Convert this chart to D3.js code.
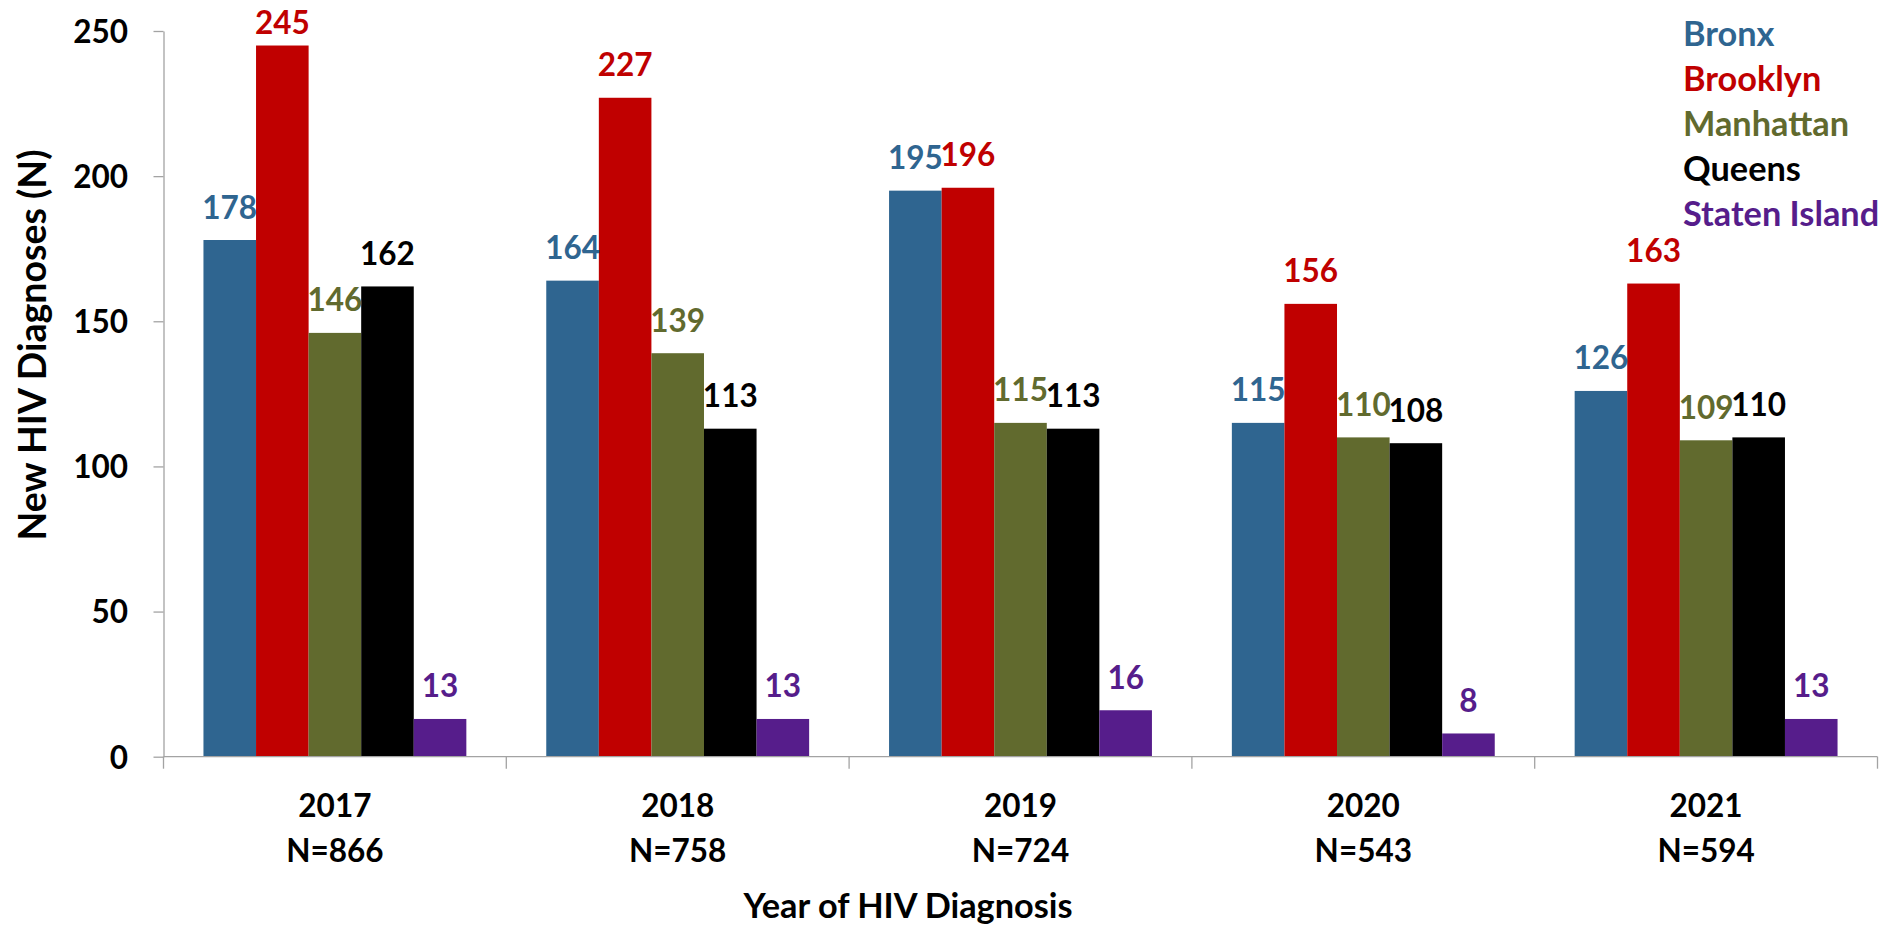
<!DOCTYPE html>
<html>
<head>
<meta charset="utf-8">
<script src="https://cdn.jsdelivr.net/npm/d3@7"></script>
<style>
  html, body { margin: 0; padding: 0; background: #fff; }
  svg { display: block; font-family: Lato, "Open Sans", sans-serif; font-weight: bold; }
</style>
</head>
<body>
<svg id="chart" width="1885" height="930"></svg>
<script>
// chart data
const years = ["2017", "2018", "2019", "2020", "2021"];
const yearTotals = [866, 758, 724, 543, 594];
const boroughs = ["Bronx", "Brooklyn", "Manhattan", "Queens", "Staten Island"];
const bronx = [178, 164, 195, 115, 126];
const brooklyn = [245, 227, 196, 156, 163];
const manhattan = [146, 139, 115, 110, 109];
const queens = [162, 113, 113, 108, 110];
const statenIsland = [13, 13, 16, 8, 13];
const yTicks = [0, 50, 100, 150, 200, 250];

const seriesValues = [bronx, brooklyn, manhattan, queens, statenIsland];
const colorDict = {
  "Bronx": "#2f6590",
  "Brooklyn": "#c00000",
  "Manhattan": "#616a2e",
  "Queens": "#000000",
  "Staten Island": "#561d8b"
};

const width = 1885;
const height = 930;
const margins = { left: 163.5, right: 7.5, top: 31, bottom: 173.3 };
const fontSize = 31.5;     // digits
const wordSize = 34.3;     // words (legend, x title)
const axisColor = "#a3a3a3";

const svg = d3.select("#chart");

const x0 = d3.scaleBand()
  .domain(years)
  .range([margins.left, width - margins.right])
  .padding(0);

const x1 = d3.scaleBand()
  .domain(boroughs)
  .range([0, x0.bandwidth()])
  .paddingInner(0)
  .paddingOuter(0.76);

const y = d3.scaleLinear()
  .domain([0, 250])
  .range([height - margins.bottom, margins.top]);

const rows = [];
years.forEach((yr, i) => {
  boroughs.forEach((b, j) => {
    rows.push({ year: yr, borough: b, count: seriesValues[j][i] });
  });
});

// bars
svg.append("g").attr("id", "bars")
  .selectAll("rect")
  .data(rows)
  .join("rect")
  .attr("x", (d) => x0(d.year) + x1(d.borough))
  .attr("width", x1.bandwidth())
  .attr("y", (d) => y(d.count))
  .attr("height", (d) => y(0) - y(d.count))
  .attr("fill", (d) => colorDict[d.borough]);

// y axis
const yAxisNode = svg.append("g")
  .attr("transform", `translate(${margins.left}, 0)`)
  .call(d3.axisLeft(y).tickValues(yTicks).tickSize(10).tickSizeOuter(0).tickPadding(25.5));
yAxisNode.select(".domain").attr("stroke", axisColor).attr("stroke-width", 1.3);
yAxisNode.selectAll(".tick line").attr("stroke", axisColor).attr("stroke-width", 1.3);
yAxisNode.selectAll(".tick text")
  .attr("fill", "#000")
  .attr("font-size", fontSize)
  .attr("font-family", "Lato, sans-serif")
  .attr("font-weight", "bold")
  .attr("dy", "0.36em");

// x axis line and category boundary ticks
const xAxisNode = svg.append("g").attr("id", "xAxis");
xAxisNode.append("line")
  .attr("x1", x0.range()[0])
  .attr("x2", x0.range()[1])
  .attr("y1", y(0))
  .attr("y2", y(0))
  .attr("stroke", axisColor)
  .attr("stroke-width", 1.3);

const boundaries = years.map((yr) => x0(yr)).concat([x0.range()[1]]);
xAxisNode.selectAll("line.tick")
  .data(boundaries)
  .join("line")
  .attr("class", "tick")
  .attr("x1", (d) => d)
  .attr("x2", (d) => d)
  .attr("y1", y(0))
  .attr("y2", y(0) + 12)
  .attr("stroke", axisColor)
  .attr("stroke-width", 1.3);

// category labels: year + N
xAxisNode.selectAll("text.year")
  .data(years)
  .join("text")
  .attr("class", "year")
  .attr("x", (d) => x0(d) + x0.bandwidth() / 2)
  .attr("y", 817)
  .attr("text-anchor", "middle")
  .attr("font-size", fontSize)
  .text((d) => d);

xAxisNode.selectAll("text.total")
  .data(yearTotals)
  .join("text")
  .attr("class", "total")
  .attr("x", (d, i) => x0(years[i]) + x0.bandwidth() / 2)
  .attr("y", 862)
  .attr("text-anchor", "middle")
  .attr("font-size", fontSize)
  .text((d) => "N=" + d);

// value labels (pushed down when they would leave the top)
svg.append("g").attr("id", "labels")
  .selectAll("text")
  .data(rows)
  .join("text")
  .attr("x", (d) => x0(d.year) + x1(d.borough) + x1.bandwidth() / 2)
  .attr("y", (d) => Math.max(y(d.count) - 21.5, 34))
  .attr("text-anchor", "middle")
  .attr("font-size", fontSize)
  .attr("fill", (d) => colorDict[d.borough])
  .text((d) => d.count);

// axis titles
svg.append("text")
  .attr("transform", "translate(46, 345) rotate(-90)")
  .attr("text-anchor", "middle")
  .attr("font-size", 37.5)
  .text("New HIV Diagnoses (N)");

svg.append("text")
  .attr("x", 908)
  .attr("y", 918)
  .attr("text-anchor", "middle")
  .attr("font-size", wordSize)
  .text("Year of HIV Diagnosis");

// legend
svg.append("g").attr("id", "legend")
  .selectAll("text")
  .data(boroughs)
  .join("text")
  .attr("x", 1683)
  .attr("y", (d, i) => 46 + i * 45)
  .attr("font-size", wordSize)
  .attr("fill", (d) => colorDict[d])
  .text((d) => d);
</script>
</body>
</html>
